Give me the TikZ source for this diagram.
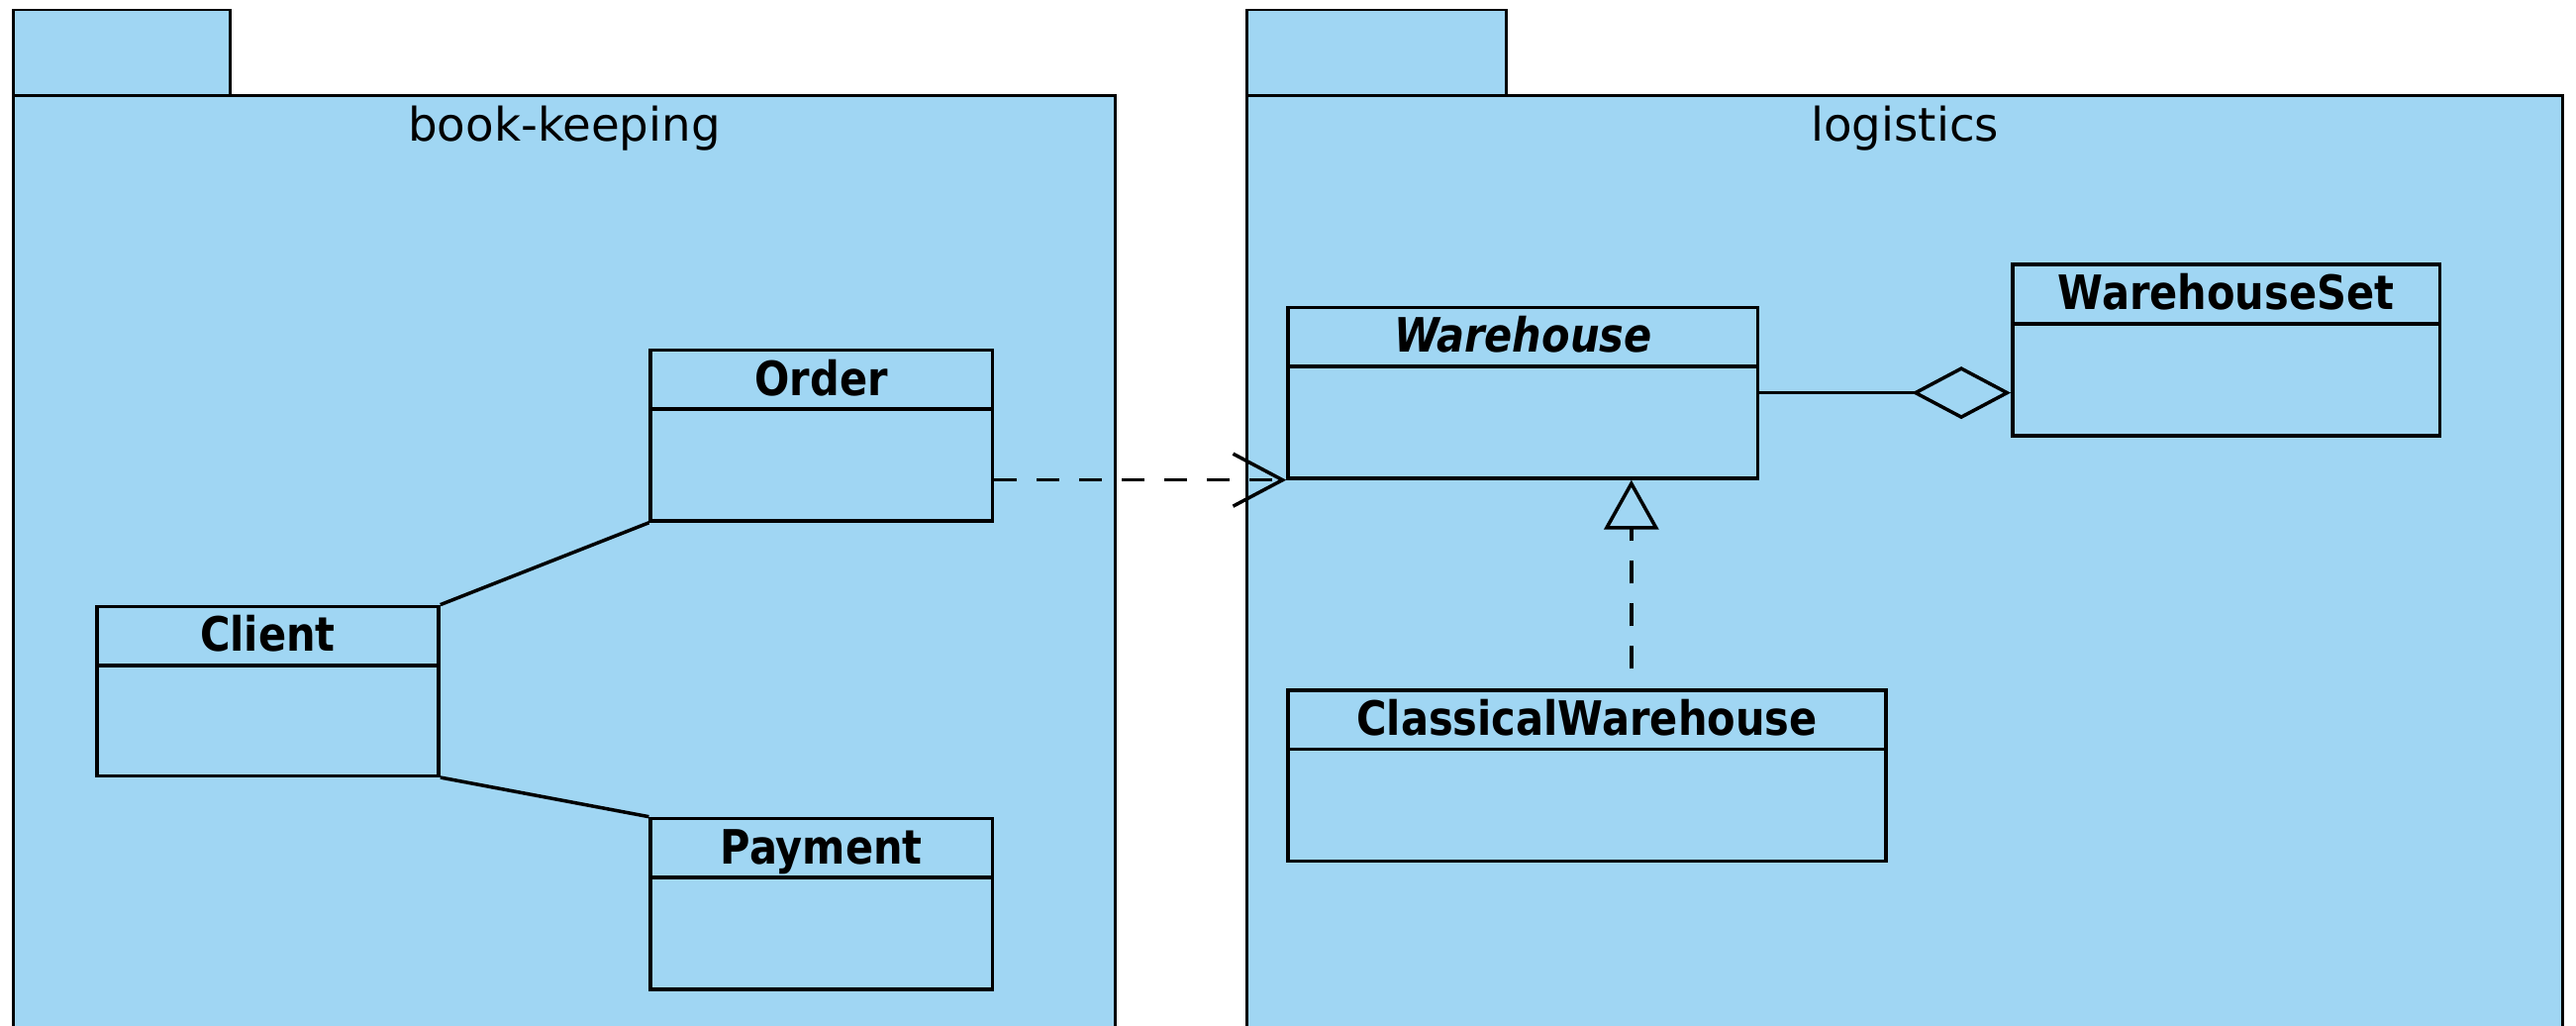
\documentclass[tikz,border=0pt]{standalone}
\usepackage{fontspec}
\setmainfont{DejaVu Sans}
\newfontfamily\clsfont{DejaVu Sans}[FakeStretch=0.87]
\usetikzlibrary{arrows.meta,fit}
\definecolor{pkgblue}{RGB}{160,214,243}
\newcommand{\umlcls}[6]{%
  \node[cls, fit={(#2,#3) (#4,#5)}] (#1) {};
  \draw[line width=1pt] (#2,#3+36) -- (#4,#3+36);
  \node[clsname] (#1-name) at ({(#2+#4)/2},#3+27.5) {#6};
}
\begin{document}
\begin{tikzpicture}[x=0.016594cm,y=-0.016594cm,
  pkg/.style={draw=black, fill=pkgblue, line width=0.8pt, inner sep=0pt},
  cls/.style={draw=black, fill=pkgblue, line width=1pt, inner sep=0pt},
  clsname/.style={anchor=base, inner sep=0pt, font=\clsfont\bfseries\fontsize{13.6}{16}\selectfont},
  pkgname/.style={anchor=base, inner sep=0pt, font=\fontsize{13.3}{16}\selectfont},
  conn/.style={draw=black, line width=1pt},
  dep/.style={conn, dash pattern=on 0.23cm off 0.2cm},
]
\clip (0,0) rectangle (1568,624);
% packages
\node[pkg, fit={(8,6) (140,58)}] (tabL) {};
\node[pkg, fit={(8,58) (679,640)}] (bodyL) {};
\node[pkg, fit={(759,6) (917,58)}] (tabR) {};
\node[pkg, fit={(759,58) (1560,640)}] (bodyR) {};
\node[pkgname] (bkl) at (343.5,86) {book-keeping};
\node[pkgname] (lgl) at (1159.5,86) {logistics};
% classes
\umlcls{order}{396}{213}{604}{317}{Order}
\umlcls{client}{59}{369}{267}{472}{Client}
\umlcls{payment}{396}{498}{604}{602}{Payment}
\umlcls{warehouse}{784}{187}{1070}{291}{\itshape Warehouse}
\umlcls{wset}{1225}{161}{1485}{265}{WarehouseSet}
\umlcls{cwh}{784}{420}{1148}{524}{ClassicalWarehouse}
% connectors
\draw[conn] (client.north east) -- (order.south west);
\draw[conn] (client.south east) -- (payment.north west);
\draw[dep, -{Straight Barb[length=0.5cm, width=0.53cm]}] (order.east |- warehouse.south west) -- (warehouse.south west);
\draw[conn, -{Diamond[open, length=1.0cm, width=0.53cm]}] (warehouse.east) -- (warehouse.east -| wset.west);
\coordinate (rz) at (993,407);
\draw[dep, -{Triangle[open, length=0.5cm, width=0.55cm]}] (rz) -- (rz |- warehouse.south);
\end{tikzpicture}
\end{document}
